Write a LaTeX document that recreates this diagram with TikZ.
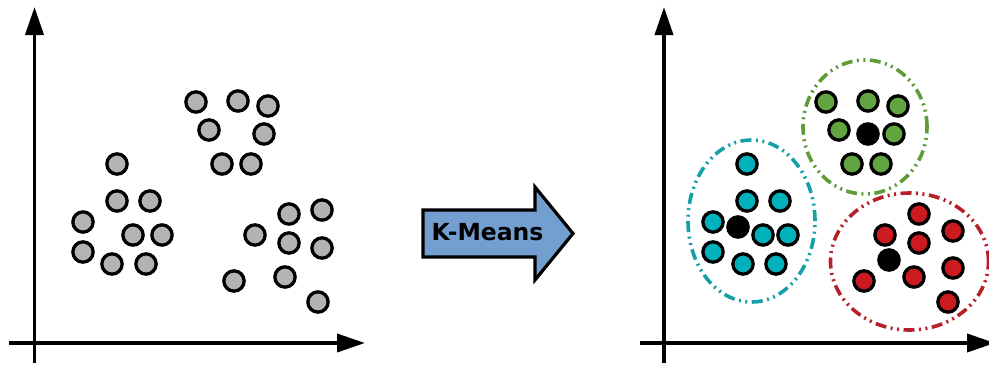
\documentclass[tikz,border=0pt]{standalone}
\usepackage{fontspec}
\newfontfamily\labelfont{DejaVu Sans}
\usetikzlibrary{arrows.meta,shapes.geometric}
\definecolor{ptgrey}{HTML}{B3B3B3}
\definecolor{ptgreen}{HTML}{62A43F}
\definecolor{ptcyan}{HTML}{00B1BC}
\definecolor{ptred}{HTML}{CB1A20}
\definecolor{rimgreen}{HTML}{5E9C3A}
\definecolor{rimcyan}{HTML}{15A0A8}
\definecolor{rimred}{HTML}{B52029}
\definecolor{arrowblue}{HTML}{729FCF}
\tikzset{
  x=1pt, y=-1pt,
  axis/.style={line width=3.8pt, -{Triangle[length=28pt,width=18pt]}},
  datapt/.style={circle, draw=black, line width=3.3pt, minimum size=20.3pt, inner sep=0pt},
  centroid/.style={datapt, fill=black},
  clusterrim/.style={ellipse, line width=3.6pt, inner sep=0pt,
    dash pattern=on 11pt off 4.5pt on 2pt off 4.5pt on 2pt off 4.5pt},
}
\begin{document}
\begin{tikzpicture}
\useasboundingbox (0,0) rectangle (989,367);

% ---- left panel: raw data ----
\coordinate (ly0) at (34.5,363);
\coordinate (ly1) at (34.5,7);
\coordinate (lx0) at (9,343);
\coordinate (lx1) at (365,343);
\draw[axis] (ly0) -- (ly1);
\draw[axis] (lx0) -- (lx1);

\foreach \px/\py [count=\i] in {196/102,238/101,268/106,209/130,264/134,222/164,251/164}
  \node[datapt, fill=ptgrey] (ua\i) at (\px,\py) {};
\foreach \px/\py [count=\i] in {117/164,117/201,150/201,83/222,133/235,162/235,83/252,112/264,146/264}
  \node[datapt, fill=ptgrey] (ub\i) at (\px,\py) {};
\foreach \px/\py [count=\i] in {289/214,322/210,255/235,289/243,322/248,234/281,285/277,318/302}
  \node[datapt, fill=ptgrey] (uc\i) at (\px,\py) {};

% ---- K-Means block arrow ----
\draw[line width=3.2pt, fill=arrowblue, line join=miter]
  (423,210) -- (535,210) -- (535,187) -- (573,233.5) -- (535,280) -- (535,257) -- (423,257) -- cycle;
\node[font=\labelfont\bfseries\fontsize{23.5}{23.5}\selectfont, inner sep=0pt, anchor=base] (kmeans) at (487.5,240.3) {K-Means};

% ---- right panel: clustered data ----
\coordinate (ry0) at (664,363);
\coordinate (ry1) at (664,7);
\coordinate (rx0) at (640,343);
\coordinate (rx1) at (995,343);
\draw[axis] (ry0) -- (ry1);
\draw[axis] (rx0) -- (rx1);

\node[clusterrim, draw=rimgreen, minimum width=124pt, minimum height=134pt] (rimg) at (865,127) {};
\node[clusterrim, draw=rimcyan, minimum width=127pt, minimum height=162pt] (rimc) at (751.5,221) {};
\node[clusterrim, draw=rimred, minimum width=158pt, minimum height=137pt] (rimr) at (909.5,261.5) {};

\foreach \px/\py [count=\i] in {196/102,238/101,268/106,209/130,264/134,222/164,251/164}
  \node[datapt, fill=ptgreen] (ga\i) at (\px+630,\py) {};
\foreach \px/\py [count=\i] in {117/164,117/201,150/201,83/222,133/235,158/235,83/252,113/264,146/264}
  \node[datapt, fill=ptcyan] (cb\i) at (\px+630,\py) {};
\foreach \px/\py [count=\i] in {289/214,323/231,255/235,289/243,323/268,234/281,284/277,318/302}
  \node[datapt, fill=ptred] (rc\i) at (\px+630,\py) {};

\node[centroid] (mg) at (868,134) {};
\node[centroid] (mc) at (738,227) {};
\node[centroid] (mr) at (889,260) {};
\end{tikzpicture}
\end{document}
